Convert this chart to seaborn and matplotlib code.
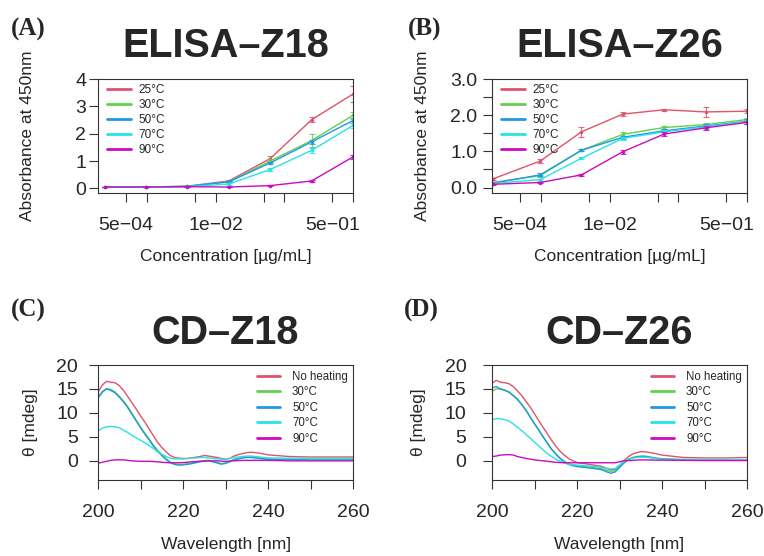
import numpy as np
import pandas as pd
import matplotlib
matplotlib.use("Agg")
import matplotlib.pyplot as plt
import seaborn as sns

# ELISA data (absorbance at 450 nm)
elisa_labels = ["25°C", "30°C", "50°C", "70°C", "90°C"]
conc_z18 = [0.000244, 0.000977, 0.0039, 0.0156, 0.0625, 0.25, 1.0]
conc_z26 = [0.0002, 0.000977, 0.0039, 0.0156, 0.0625, 0.25, 1.0]

z18_25 = [0.05, 0.05, 0.08, 0.27, 1.09, 2.51, 3.45]
z18_30 = [0.05, 0.05, 0.07, 0.24, 1.00, 1.75, 2.67]
z18_50 = [0.05, 0.05, 0.07, 0.24, 0.93, 1.70, 2.48]
z18_70 = [0.05, 0.05, 0.06, 0.16, 0.69, 1.39, 2.30]
z18_90 = [0.05, 0.05, 0.06, 0.05, 0.10, 0.27, 1.15]
z18_25_err = [0.01, 0.01, 0.01, 0.03, 0.08, 0.10, 0.28]
z18_30_err = [0.01, 0.01, 0.01, 0.02, 0.06, 0.22, 0.12]
z18_50_err = [0.01, 0.01, 0.01, 0.02, 0.05, 0.08, 0.10]
z18_70_err = [0.01, 0.01, 0.01, 0.02, 0.04, 0.08, 0.10]
z18_90_err = [0.01, 0.01, 0.01, 0.01, 0.02, 0.03, 0.06]

z26_25 = [0.24, 0.73, 1.54, 2.03, 2.15, 2.09, 2.11]
z26_30 = [0.14, 0.33, 1.03, 1.47, 1.66, 1.74, 1.88]
z26_50 = [0.12, 0.35, 1.03, 1.39, 1.57, 1.70, 1.83]
z26_70 = [0.11, 0.22, 0.81, 1.36, 1.54, 1.68, 1.82]
z26_90 = [0.09, 0.14, 0.35, 0.99, 1.48, 1.65, 1.80]
z26_25_err = [0.03, 0.06, 0.13, 0.05, 0.03, 0.13, 0.05]
z26_30_err = [0.02, 0.03, 0.03, 0.06, 0.04, 0.05, 0.05]
z26_50_err = [0.02, 0.04, 0.03, 0.04, 0.04, 0.05, 0.06]
z26_70_err = [0.02, 0.03, 0.03, 0.05, 0.04, 0.05, 0.06]
z26_90_err = [0.01, 0.02, 0.03, 0.05, 0.05, 0.05, 0.04]

elisa_ticks = [5e-4, 1e-3, 5e-3, 1e-2, 5e-2, 1e-1, 5e-1, 1.0]
elisa_ticklabels = ["5e\u221204", "", "", "1e\u221202", "", "", "5e\u221201", ""]

# CD spectra (mdeg)
cd_labels = ["No heating", "30°C", "50°C", "70°C", "90°C"]
wavelength = [200, 201, 202, 203, 204, 205, 206, 207, 208, 209,
              210, 211, 212, 213, 214, 215, 216, 217, 218, 219,
              220, 221, 222, 223, 224, 225, 226, 227, 228, 229,
              230, 231, 232, 233, 234, 235, 236, 238, 240, 245,
              250, 255, 260]

cd18_none = [14.3, 15.8, 16.6, 16.4, 16.3, 15.7, 14.7, 13.4, 12.1, 10.8,
             9.4, 8.1, 6.7, 5.3, 3.9, 2.8, 1.9, 1.1, 0.7, 0.55,
             0.5, 0.5, 0.6, 0.75, 0.9, 1.1, 1.0, 0.85, 0.7, 0.5,
             0.35, 0.5, 1.0, 1.3, 1.5, 1.7, 1.8, 1.6, 1.25, 0.9,
             0.8, 0.8, 0.8]
cd18_30 = [13.3, 14.5, 15.1, 14.9, 14.4, 13.5, 12.5, 11.3, 9.9, 8.5,
           7.1, 5.8, 4.6, 3.3, 2.2, 1.3, 0.45, -0.25, -0.6, -0.75,
           -0.7, -0.6, -0.45, -0.3, -0.1, 0.05, 0.1, -0.1, -0.3, -0.55,
           -0.4, -0.1, 0.3, 0.5, 0.7, 0.8, 0.8, 0.6, 0.4, 0.3,
           0.2, 0.2, 0.2]
cd18_50 = [13.1, 14.3, 15.0, 14.7, 14.2, 13.3, 12.3, 11.1, 9.7, 8.3,
           6.9, 5.6, 4.4, 3.1, 2.0, 1.1, 0.3, -0.4, -0.75, -0.9,
           -0.85, -0.75, -0.6, -0.4, -0.2, -0.05, 0.0, -0.2, -0.45, -0.7,
           -0.55, -0.2, 0.2, 0.4, 0.6, 0.7, 0.7, 0.5, 0.3, 0.2,
           0.15, 0.15, 0.15]
cd18_70 = [6.2, 6.8, 7.1, 7.2, 7.1, 6.9, 6.4, 5.9, 5.3, 4.8,
           4.3, 3.8, 3.2, 2.6, 1.9, 1.4, 0.9, 0.55, 0.4, 0.4,
           0.4, 0.45, 0.55, 0.6, 0.7, 0.7, 0.6, 0.5, 0.4, 0.35,
           0.35, 0.5, 0.7, 0.8, 0.9, 1.0, 1.0, 0.8, 0.6, 0.55,
           0.5, 0.5, 0.5]
cd18_90 = [-0.5, -0.3, -0.1, 0.1, 0.2, 0.2, 0.2, 0.1, 0.0, -0.05,
           -0.1, -0.1, -0.1, -0.15, -0.2, -0.3, -0.35, -0.4, -0.4, -0.4,
           -0.35, -0.3, -0.2, -0.15, -0.1, -0.05, 0.0, 0.0, 0.0, -0.05,
           -0.1, -0.05, 0.0, 0.05, 0.1, 0.1, 0.1, 0.1, 0.1, 0.0,
           0.0, 0.0, 0.0]

cd26_none = [16.2, 16.8, 16.4, 16.3, 16.1, 15.5, 14.6, 13.6, 12.4, 11.2,
             9.8, 8.4, 7.0, 5.7, 4.3, 3.1, 2.0, 1.2, 0.5, 0.0,
             -0.35, -0.5, -0.6, -0.75, -0.9, -1.05, -1.2, -1.6, -1.9, -1.7,
             -1.0, 0.0, 0.8, 1.4, 1.7, 1.9, 1.9, 1.6, 1.2, 0.7,
             0.6, 0.6, 0.7]
cd26_30 = [14.5, 15.0, 15.0, 14.8, 14.4, 13.7, 12.9, 11.8, 10.6, 9.2,
           7.8, 6.5, 5.1, 3.8, 2.5, 1.5, 0.6, -0.1, -0.6, -0.85,
           -1.0, -1.1, -1.2, -1.3, -1.4, -1.55, -1.7, -2.0, -2.2, -2.0,
           -1.2, -0.4, 0.3, 0.7, 0.9, 1.0, 1.0, 0.7, 0.45, 0.3,
           0.25, 0.2, 0.2]
cd26_50 = [15.2, 15.5, 15.0, 14.7, 14.3, 13.6, 12.8, 11.7, 10.5, 9.1,
           7.7, 6.4, 5.0, 3.7, 2.4, 1.4, 0.5, -0.2, -0.75, -1.0,
           -1.2, -1.3, -1.4, -1.5, -1.6, -1.75, -1.9, -2.3, -2.6, -2.3,
           -1.4, -0.5, 0.2, 0.55, 0.8, 0.9, 0.9, 0.6, 0.35, 0.2,
           0.15, 0.15, 0.15]
cd26_70 = [8.6, 8.8, 8.8, 8.6, 8.3, 7.7, 7.0, 6.3, 5.5, 4.7,
           3.9, 3.1, 2.3, 1.5, 0.9, 0.35, -0.1, -0.4, -0.7, -0.8,
           -0.9, -0.95, -1.0, -1.1, -1.2, -1.3, -1.4, -1.55, -1.7, -1.6,
           -0.9, -0.2, 0.35, 0.55, 0.7, 0.75, 0.75, 0.55, 0.35, 0.2,
           0.2, 0.2, 0.2]
cd26_90 = [0.9, 1.0, 1.2, 1.25, 1.3, 1.2, 0.9, 0.7, 0.5, 0.35,
           0.2, 0.1, 0.0, -0.1, -0.2, -0.3, -0.35, -0.4, -0.4, -0.4,
           -0.4, -0.4, -0.4, -0.4, -0.4, -0.4, -0.4, -0.4, -0.4, -0.4,
           -0.2, 0.0, 0.05, 0.1, 0.15, 0.2, 0.2, 0.15, 0.15, 0.1,
           0.05, 0.05, 0.05]

cd_ticks = [200, 210, 220, 230, 240, 250, 260]
cd_ticklabels = ["200", "", "220", "", "240", "", "260"]

# R 4.x default palette colours 2..6
colors = ["#DF536B", "#61D04F", "#2297E6", "#28E2E5", "#CD0BBC"]

sns.set_style("ticks")
plt.rcParams["font.family"] = ["Liberation Sans", "DejaVu Sans"]

W, H = 764, 556
fig = plt.figure(figsize=(W / 100, H / 100), dpi=100)


def px_axes(left, top, right, bottom):
    return fig.add_axes([left / W, 1 - bottom / H, (right - left) / W, (bottom - top) / H])


def style_box(ax, ypad, xpad):
    for s in ax.spines.values():
        s.set_color("#333333")
        s.set_linewidth(0.8)
        s.set_visible(True)
    ax.tick_params(axis="both", direction="out", length=6.5, width=0.8,
                   color="#333333", labelsize=14)
    ax.tick_params(axis="y", pad=ypad)
    ax.tick_params(axis="x", pad=xpad)
    ax.grid(False)


def elisa_panel(ax, conc, series, errs, ylim, yticks, yticklabels, ypad):
    for vals, err, c, lab in zip(series, errs, colors, elisa_labels):
        sns.lineplot(x=conc, y=vals, color=c, linewidth=1.0, marker="o",
                     markersize=2.5, markeredgewidth=0, label=lab, ax=ax,
                     legend=False, clip_on=True)
        ax.errorbar(conc, vals, yerr=err, fmt="none", ecolor=c,
                    elinewidth=0.8, capsize=2, capthick=0.8, alpha=0.85)
    ax.set_xscale("log")
    ax.set_xlim(1.95e-4, 1.0)
    ax.set_ylim(*ylim)
    ax.set_xticks(elisa_ticks)
    ax.set_xticklabels(elisa_ticklabels)
    ax.minorticks_off()
    ax.set_yticks(yticks)
    ax.set_yticklabels(yticklabels)
    ax.set_xlabel("")
    ax.set_ylabel("")
    style_box(ax, ypad, 11)
    handles = [plt.Line2D([], [], color=c, lw=2.0) for c in colors]
    ax.legend(handles, elisa_labels, loc="upper left",
              bbox_to_anchor=(0.035, 0.955), frameon=False, fontsize=8.5,
              handlelength=2.0, handletextpad=0.7, labelspacing=0.25,
              borderaxespad=0, borderpad=0)


def cd_panel(ax, series, ypad):
    for vals, c, lab in zip(series, colors, cd_labels):
        sns.lineplot(x=wavelength, y=vals, color=c, linewidth=1.0, ax=ax,
                     legend=False)
    ax.set_xlim(200, 260)
    ax.set_ylim(-4, 20)
    ax.set_xticks(cd_ticks)
    ax.set_xticklabels(cd_ticklabels)
    ax.set_yticks([0, 5, 10, 15, 20])
    ax.set_yticklabels(["0", "5", "10", "15", "20"])
    ax.set_xlabel("")
    ax.set_ylabel("")
    style_box(ax, ypad, 11)
    handles = [plt.Line2D([], [], color=c, lw=2.0) for c in colors]
    ax.legend(handles, cd_labels, loc="upper right",
              bbox_to_anchor=(0.98, 0.95), frameon=False, fontsize=8.3,
              handlelength=2.0, handletextpad=1.0, labelspacing=0.3,
              borderaxespad=0, borderpad=0)


# (A) ELISA-Z18
axA = px_axes(98, 79, 353, 193)
elisa_panel(axA, conc_z18,
            [z18_25, z18_30, z18_50, z18_70, z18_90],
            [z18_25_err, z18_30_err, z18_50_err, z18_70_err, z18_90_err],
            (-0.17, 3.97), [0, 1, 2, 3, 4], ["0", "1", "2", "3", "4"], 2)

# (B) ELISA-Z26
axB = px_axes(492, 79, 747, 193)
elisa_panel(axB, conc_z26,
            [z26_25, z26_30, z26_50, z26_70, z26_90],
            [z26_25_err, z26_30_err, z26_50_err, z26_70_err, z26_90_err],
            (-0.15, 3.0), [0, 0.5, 1, 1.5, 2, 2.5, 3],
            ["0.0", "", "1.0", "", "2.0", "", "3.0"], 4)

# (C) CD-Z18
axC = px_axes(98, 365, 353, 480)
cd_panel(axC, [cd18_none, cd18_30, cd18_50, cd18_70, cd18_90], 8)

# (D) CD-Z26
axD = px_axes(492, 365, 747, 480)
cd_panel(axD, [cd26_none, cd26_30, cd26_50, cd26_70, cd26_90], 12)


def ftext(x, y, s, **kw):
    fig.text(x / W, 1 - y / H, s, **kw)


title_kw = dict(fontsize=28.5, fontweight="bold", ha="center", va="baseline")
ftext(225.5, 57, "ELISA\u2013Z18", **title_kw)
ftext(619.5, 57, "ELISA\u2013Z26", **title_kw)
ftext(225.5, 344, "CD\u2013Z18", **title_kw)
ftext(619.5, 344, "CD\u2013Z26", **title_kw)

panel_kw = dict(fontsize=18, fontweight="bold", family=["Liberation Serif", "DejaVu Serif"],
                ha="left", va="baseline")
ftext(11, 36, "(A)", **panel_kw)
ftext(408, 36, "(B)", **panel_kw)
ftext(11, 317, "(C)", **panel_kw)
ftext(404, 317, "(D)", **panel_kw)

lab_kw = dict(fontsize=12.5, ha="center", va="center")
ftext(28, 136, "Absorbance at 450nm", rotation=90, **lab_kw)
ftext(422, 136, "Absorbance at 450nm", rotation=90, **lab_kw)
ftext(226, 256, "Concentration [\u00b5g/mL]", **lab_kw)
ftext(620, 256, "Concentration [\u00b5g/mL]", **lab_kw)
ftext(30, 422, "\u03b8 [mdeg]", rotation=90, **lab_kw)
ftext(419, 422, "\u03b8 [mdeg]", rotation=90, **lab_kw)
ftext(226, 545, "Wavelength [nm]", **lab_kw)
ftext(619, 545, "Wavelength [nm]", **lab_kw)

fig.savefig("out.png", dpi=100)
